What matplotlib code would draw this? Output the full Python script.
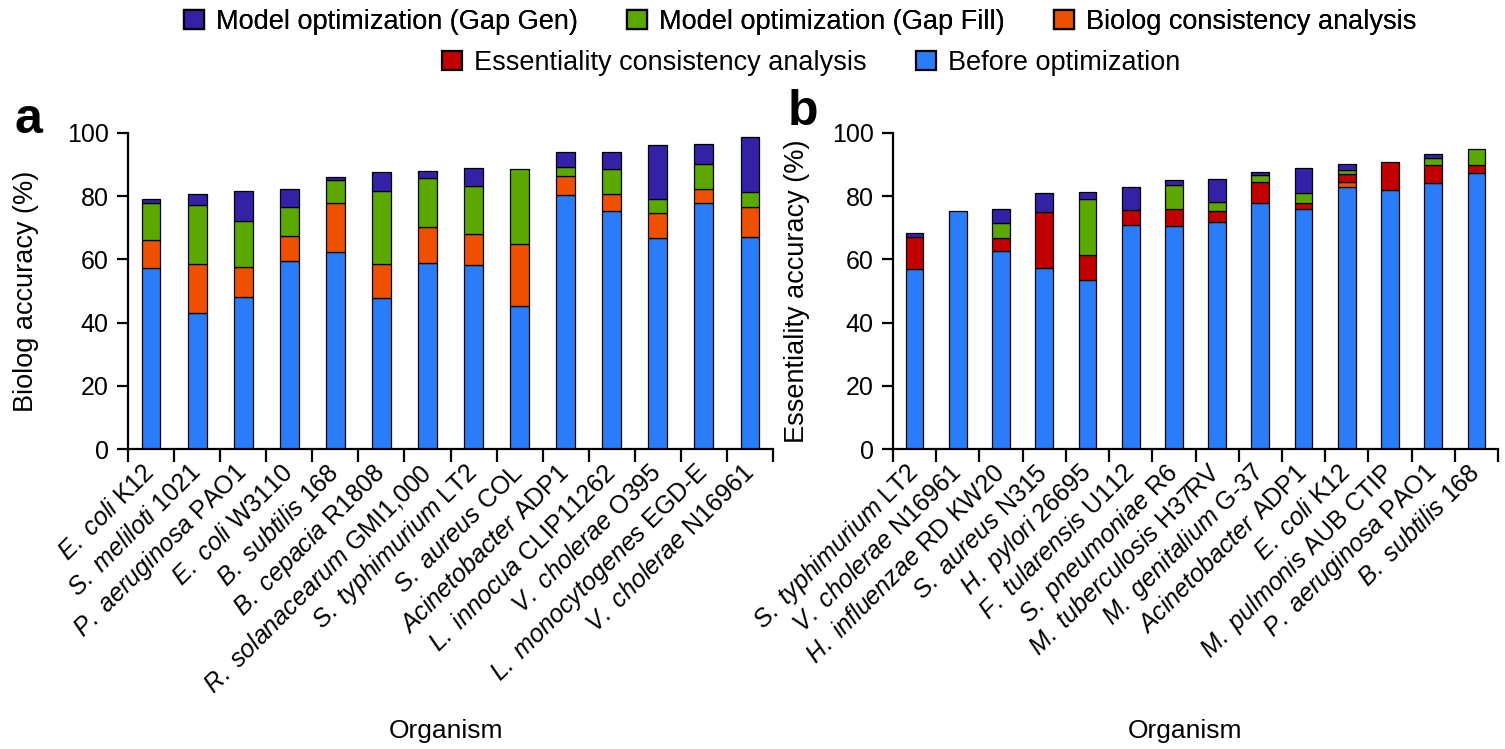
import numpy as np
import matplotlib
matplotlib.use("Agg")
import matplotlib.pyplot as plt
from matplotlib.patches import Patch

plt.rcParams['font.family'] = ['Liberation Sans', 'DejaVu Sans']
plt.rcParams['mathtext.fontset'] = 'custom'
plt.rcParams['mathtext.rm'] = 'Liberation Sans'
plt.rcParams['mathtext.it'] = 'Liberation Sans:italic'

# --- data: panel a (Biolog accuracy) ---
species_a = ['E. coli', 'S. meliloti', 'P. aeruginosa', 'E. coli', 'B. subtilis',
             'B. cepacia', 'R. solanacearum', 'S. typhimurium', 'S. aureus',
             'Acinetobacter', 'L. innocua', 'V. cholerae', 'L. monocytogenes',
             'V. cholerae']
strain_a = ['K12', '1021', 'PAO1', 'W3110', '168', 'R1808', 'GMI1,000', 'LT2',
            'COL', 'ADP1', 'CLIP11262', 'O395', 'EGD-E', 'N16961']
before_a = [57.2, 43.2, 48.1, 59.4, 62.2, 47.7, 58.7, 58.1, 45.2, 80.3, 75.4, 66.7, 77.9, 67.2]
biolog_a = [8.9, 15.3, 9.6, 8.1, 15.5, 10.7, 11.6, 10.0, 19.5, 6.0, 5.2, 7.9, 4.2, 9.2]
gapfill_a = [11.6, 18.6, 14.5, 8.9, 7.5, 23.1, 15.5, 15.2, 23.9, 2.9, 7.8, 4.5, 8.0, 4.9]
gapgen_a = [1.5, 3.6, 9.4, 5.7, 0.9, 6.1, 2.0, 5.4, 0.0, 4.6, 5.6, 17.0, 6.3, 17.2]

# --- data: panel b (Essentiality accuracy) ---
species_b = ['S. typhimurium', 'V. cholerae', 'H. influenzae', 'S. aureus', 'H. pylori',
             'F. tularensis', 'S. pneumoniae', 'M. tuberculosis', 'M. genitalium',
             'Acinetobacter', 'E. coli', 'M. pulmonis', 'P. aeruginosa', 'B. subtilis']
strain_b = ['LT2', 'N16961', 'RD KW20', 'N315', '26695', 'U112', 'R6', 'H37RV',
            'G-37', 'ADP1', 'K12', 'AUB CTIP', 'PAO1', '168']
before_b = [57.0, 75.2, 62.7, 57.3, 53.4, 70.7, 70.4, 71.8, 77.8, 76.0, 83.0, 81.9, 84.0, 87.2]
biolog_b = [0, 0, 0, 0, 0, 0, 0, 0, 0, 0, 1.3, 0, 0, 0]
essent_b = [10.1, 0, 4.0, 17.7, 7.9, 4.8, 5.6, 3.5, 6.6, 1.8, 2.7, 8.8, 5.7, 2.6]
gapfill_b = [0, 0, 4.7, 0, 17.9, 0, 7.4, 2.8, 2.2, 3.3, 1.3, 0, 2.4, 5.2]
gapgen_b = [1.3, 0, 4.6, 6.1, 2.1, 7.2, 1.6, 7.3, 1.1, 7.8, 1.9, 0, 1.2, 0]

c_gapgen = '#3322A8'
c_gapfill = '#5BA800'
c_biolog = '#EE5000'
c_essent = '#C20000'
c_before = '#2A7CF8'

FS = 18

fig = plt.figure(figsize=(15.05, 7.49), dpi=100)
W, H = 1505, 749
bottom = 1 - 449.3 / H
height = 316.6 / H
ax_a = fig.add_axes([128 / W, bottom, 645 / W, height])
ax_b = fig.add_axes([893 / W, bottom, 605 / W, height])


def stacked(ax, segments, species, strains, ylabel):
    x = np.arange(len(species))
    base = np.zeros(len(species))
    for vals, col in segments:
        vals = np.array(vals, dtype=float)
        h = np.where(vals > 0, vals, np.nan)
        ax.bar(x, h, 0.41, bottom=base, color=col, edgecolor='black', linewidth=0.9)
        base += vals
    ax.set_xlim(-0.5, len(species) - 0.5)
    ax.set_ylim(0, 100)
    ax.set_yticks(np.arange(0, 101, 20))
    ax.set_xticks(np.arange(-0.5, len(species)), labels=[])
    ax.set_xticks(x, minor=True)
    labels = [r'$\mathit{%s}$ %s' % (s.replace(' ', r'\ '), st) for s, st in zip(species, strains)]
    ax.set_xticklabels(labels, minor=True, rotation=45, ha='right', va='center',
                       rotation_mode='anchor', fontsize=FS)
    ax.tick_params(axis='x', which='minor', length=0, pad=14)
    ax.tick_params(axis='x', which='major', length=9, width=1.6, direction='out')
    ax.tick_params(axis='y', length=8, width=1.6, labelsize=FS, pad=6)
    for s in ['top', 'right']:
        ax.spines[s].set_visible(False)
    for s in ['left', 'bottom']:
        ax.spines[s].set_linewidth(1.6)
    ax.set_ylabel(ylabel, fontsize=19.5)
    ax.yaxis.label.set_va('center')


stacked(ax_a, [(before_a, c_before), (biolog_a, c_biolog), (gapfill_a, c_gapfill),
               (gapgen_a, c_gapgen)], species_a, strain_a, 'Biolog accuracy (%)')
stacked(ax_b, [(before_b, c_before), (biolog_b, c_biolog), (essent_b, c_essent),
               (gapfill_b, c_gapfill), (gapgen_b, c_gapgen)], species_b, strain_b,
        'Essentiality accuracy (%)')
ax_a.yaxis.set_label_coords((26 - 128) / 645, 0.5)
ax_b.yaxis.set_label_coords((797 - 893) / 605, 0.5)

fig.text(446 / W, 1 - 731 / H, 'Organism', fontsize=19, ha='center', va='center')
fig.text(1185 / W, 1 - 731 / H, 'Organism', fontsize=19, ha='center', va='center')
fig.text(14 / W, 1 - 133 / H, 'a', fontsize=36, fontweight='bold', ha='left', va='baseline')
fig.text(788 / W, 1 - 125 / H, 'b', fontsize=36, fontweight='bold', ha='left', va='baseline')

# legend in two centred rows
def handle(c):
    return Patch(facecolor=c, edgecolor='black', linewidth=1.6)

leg_kw = dict(frameon=False, fontsize=19.5, handlelength=0.75, handleheight=0.75,
              handletextpad=0.45, columnspacing=1.8, borderaxespad=0, borderpad=0)
leg1 = fig.legend([handle(c_gapgen), handle(c_gapfill), handle(c_biolog)],
                  ['Model optimization (Gap Gen)', 'Model optimization (Gap Fill)',
                   'Biolog consistency analysis'],
                  loc='center', bbox_to_anchor=(800 / W, 1 - 22 / H), ncol=3, **leg_kw)
fig.add_artist(leg1)
fig.legend([handle(c_essent), handle(c_before)],
           ['Essentiality consistency analysis', 'Before optimization'],
           loc='center', bbox_to_anchor=(811 / W, 1 - 63 / H), ncol=2, **leg_kw)

fig.savefig('out.png', dpi=100)
